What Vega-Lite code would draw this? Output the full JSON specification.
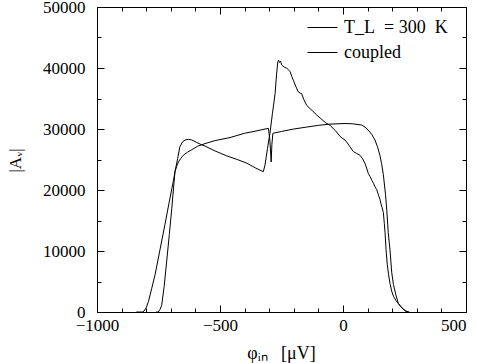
{
  "$schema": "https://vega.github.io/schema/vega-lite/v6.json",
  "width": 369,
  "height": 305,
  "autosize": {"type": "none"},
  "padding": {"left": 97, "top": 7, "right": 11, "bottom": 51},
  "background": "white",
  "config": {
    "view": {"stroke": null},
    "font": "Liberation Serif",
    "axis": {"grid": false, "domainColor": "black", "tickColor": "black", "labelColor": "black", "titleColor": "black", "labelFont": "Liberation Serif", "titleFont": "Liberation Serif", "labelFontSize": 17, "titleFontSize": 18, "titleFontWeight": "normal", "domainWidth": 1, "tickWidth": 1}
  },
  "data": {"values": [
    {"s": "coupled", "x": -840, "y": 0}, {"s": "coupled", "x": -812, "y": 0}, {"s": "coupled", "x": -800, "y": 700}, {"s": "coupled", "x": -791, "y": 1700}, {"s": "coupled", "x": -778, "y": 3800}, {"s": "coupled", "x": -764, "y": 6100}, {"s": "coupled", "x": -744, "y": 10200}, {"s": "coupled", "x": -724, "y": 14300}, {"s": "coupled", "x": -707, "y": 17900}, {"s": "coupled", "x": -690, "y": 21400}, {"s": "coupled", "x": -680, "y": 23600}, {"s": "coupled", "x": -672, "y": 25200}, {"s": "coupled", "x": -663, "y": 27100}, {"s": "coupled", "x": -652, "y": 27900}, {"s": "coupled", "x": -642, "y": 28200}, {"s": "coupled", "x": -628, "y": 28300}, {"s": "coupled", "x": -615, "y": 28200}, {"s": "coupled", "x": -595, "y": 27800}, {"s": "coupled", "x": -574, "y": 27400}, {"s": "coupled", "x": -561, "y": 27200}, {"s": "coupled", "x": -520, "y": 26400}, {"s": "coupled", "x": -473, "y": 25600}, {"s": "coupled", "x": -430, "y": 25000}, {"s": "coupled", "x": -391, "y": 24400}, {"s": "coupled", "x": -355, "y": 23600}, {"s": "coupled", "x": -324, "y": 23000}, {"s": "coupled", "x": -317, "y": 24100}, {"s": "coupled", "x": -307, "y": 26800}, {"s": "coupled", "x": -297, "y": 29300}, {"s": "coupled", "x": -287, "y": 32500}, {"s": "coupled", "x": -276, "y": 35800}, {"s": "coupled", "x": -270, "y": 39000}, {"s": "coupled", "x": -265, "y": 41000}, {"s": "coupled", "x": -262, "y": 41300}, {"s": "coupled", "x": -258, "y": 40900}, {"s": "coupled", "x": -254, "y": 41100}, {"s": "coupled", "x": -249, "y": 40500}, {"s": "coupled", "x": -244, "y": 40300}, {"s": "coupled", "x": -237, "y": 40100}, {"s": "coupled", "x": -229, "y": 40000}, {"s": "coupled", "x": -222, "y": 39700}, {"s": "coupled", "x": -215, "y": 39400}, {"s": "coupled", "x": -208, "y": 38600}, {"s": "coupled", "x": -202, "y": 38000}, {"s": "coupled", "x": -192, "y": 37000}, {"s": "coupled", "x": -182, "y": 36100}, {"s": "coupled", "x": -175, "y": 35900}, {"s": "coupled", "x": -168, "y": 35800}, {"s": "coupled", "x": -160, "y": 34900}, {"s": "coupled", "x": -148, "y": 33900}, {"s": "coupled", "x": -138, "y": 33500}, {"s": "coupled", "x": -125, "y": 33000}, {"s": "coupled", "x": -107, "y": 32300}, {"s": "coupled", "x": -90, "y": 31700}, {"s": "coupled", "x": -70, "y": 31000}, {"s": "coupled", "x": -53, "y": 30600}, {"s": "coupled", "x": -30, "y": 29700}, {"s": "coupled", "x": -10, "y": 28700}, {"s": "coupled", "x": 8, "y": 28200}, {"s": "coupled", "x": 18, "y": 27700}, {"s": "coupled", "x": 28, "y": 27100}, {"s": "coupled", "x": 42, "y": 26300}, {"s": "coupled", "x": 55, "y": 26000}, {"s": "coupled", "x": 69, "y": 25700}, {"s": "coupled", "x": 80, "y": 25100}, {"s": "coupled", "x": 89, "y": 24400}, {"s": "coupled", "x": 96, "y": 23600}, {"s": "coupled", "x": 103, "y": 22700}, {"s": "coupled", "x": 110, "y": 22200}, {"s": "coupled", "x": 117, "y": 21600}, {"s": "coupled", "x": 124, "y": 21100}, {"s": "coupled", "x": 130, "y": 20500}, {"s": "coupled", "x": 137, "y": 20100}, {"s": "coupled", "x": 144, "y": 19200}, {"s": "coupled", "x": 150, "y": 18500}, {"s": "coupled", "x": 154, "y": 17800}, {"s": "coupled", "x": 159, "y": 17100}, {"s": "coupled", "x": 164, "y": 16300}, {"s": "coupled", "x": 168, "y": 14500}, {"s": "coupled", "x": 171, "y": 13000}, {"s": "coupled", "x": 175, "y": 10200}, {"s": "coupled", "x": 180, "y": 7800}, {"s": "coupled", "x": 185, "y": 6200}, {"s": "coupled", "x": 191, "y": 4700}, {"s": "coupled", "x": 198, "y": 3400}, {"s": "coupled", "x": 205, "y": 2600}, {"s": "coupled", "x": 215, "y": 1900}, {"s": "coupled", "x": 225, "y": 1400}, {"s": "coupled", "x": 235, "y": 900}, {"s": "coupled", "x": 245, "y": 500}, {"s": "coupled", "x": 255, "y": 150}, {"s": "coupled", "x": 270, "y": 0},
    {"s": "TL", "x": -760, "y": 0}, {"s": "TL", "x": -751, "y": 0}, {"s": "TL", "x": -744, "y": 400}, {"s": "TL", "x": -737, "y": 1100}, {"s": "TL", "x": -727, "y": 4200}, {"s": "TL", "x": -717, "y": 8200}, {"s": "TL", "x": -706, "y": 12700}, {"s": "TL", "x": -696, "y": 17000}, {"s": "TL", "x": -689, "y": 20300}, {"s": "TL", "x": -683, "y": 23000}, {"s": "TL", "x": -676, "y": 23900}, {"s": "TL", "x": -669, "y": 24600}, {"s": "TL", "x": -659, "y": 25200}, {"s": "TL", "x": -649, "y": 25700}, {"s": "TL", "x": -632, "y": 26200}, {"s": "TL", "x": -615, "y": 26600}, {"s": "TL", "x": -590, "y": 27200}, {"s": "TL", "x": -561, "y": 27600}, {"s": "TL", "x": -520, "y": 28100}, {"s": "TL", "x": -459, "y": 28600}, {"s": "TL", "x": -400, "y": 29300}, {"s": "TL", "x": -350, "y": 29700}, {"s": "TL", "x": -317, "y": 30000}, {"s": "TL", "x": -303, "y": 30100}, {"s": "TL", "x": -297, "y": 28000}, {"s": "TL", "x": -292, "y": 24600}, {"s": "TL", "x": -289, "y": 27500}, {"s": "TL", "x": -285, "y": 29300}, {"s": "TL", "x": -250, "y": 29600}, {"s": "TL", "x": -200, "y": 30000}, {"s": "TL", "x": -150, "y": 30300}, {"s": "TL", "x": -100, "y": 30600}, {"s": "TL", "x": -53, "y": 30800}, {"s": "TL", "x": 8, "y": 30900}, {"s": "TL", "x": 40, "y": 30850}, {"s": "TL", "x": 76, "y": 30650}, {"s": "TL", "x": 90, "y": 30300}, {"s": "TL", "x": 103, "y": 29800}, {"s": "TL", "x": 117, "y": 29100}, {"s": "TL", "x": 130, "y": 28200}, {"s": "TL", "x": 140, "y": 27100}, {"s": "TL", "x": 150, "y": 25700}, {"s": "TL", "x": 157, "y": 24300}, {"s": "TL", "x": 164, "y": 22500}, {"s": "TL", "x": 173, "y": 19200}, {"s": "TL", "x": 178, "y": 16700}, {"s": "TL", "x": 184, "y": 13000}, {"s": "TL", "x": 191, "y": 10200}, {"s": "TL", "x": 198, "y": 6500}, {"s": "TL", "x": 205, "y": 4500}, {"s": "TL", "x": 215, "y": 2800}, {"s": "TL", "x": 225, "y": 1400}, {"s": "TL", "x": 235, "y": 850}, {"s": "TL", "x": 245, "y": 450}, {"s": "TL", "x": 255, "y": 150}, {"s": "TL", "x": 265, "y": 0}
  ]},
  "layer": [
    {
      "mark": {"type": "line", "strokeWidth": 1, "interpolate": "linear"},
      "encoding": {
        "x": {"field": "x", "type": "quantitative", "scale": {"domain": [-1000, 500], "nice": false, "zero": false},
          "axis": {"orient": "bottom", "values": [-1000, -900, -800, -700, -600, -500, -400, -300, -200, -100, 0, 100, 200, 300, 400, 500], "format": "d",
            "labelExpr": "datum.value % 500 === 0 ? replace(datum.label, '-', '−') : ''",
            "labelAlign": {"condition": {"test": "datum.value === 500", "value": "right"}, "value": "center"},
            "tickSize": {"condition": {"test": "datum.value % 500 === 0", "value": -7}, "value": -4},
            "labelPadding": 12, "labelFlush": false, "labelOverlap": false,
            "title": "φᵢₙ\u00a0\u00a0\u00a0[μV]", "titleX": 184, "titleY": 41, "titleBaseline": "middle", "titleAlign": "center"}},
        "y": {"field": "y", "type": "quantitative", "scale": {"domain": [0, 50000], "nice": false},
          "axis": {"orient": "left", "values": [0, 5000, 10000, 15000, 20000, 25000, 30000, 35000, 40000, 45000, 50000], "format": "d",
            "labelExpr": "datum.value % 10000 === 0 ? datum.label : ''",
            "tickSize": {"condition": {"test": "datum.value % 10000 === 0", "value": -7}, "value": -4},
            "labelPadding": 19, "labelFlush": false, "labelOverlap": false, "labelBaseline": "middle",
            "title": "|Aᵥ|", "titleFontSize": 17, "titleX": -82, "titleY": 153, "titleAngle": -90, "titleBaseline": "middle", "titleAlign": "center"}},
        "color": {"field": "s", "type": "nominal", "scale": {"domain": ["TL", "coupled"], "range": ["black", "black"]},
          "legend": {"orient": "none", "legendX": 210, "legendY": 5, "title": null, "symbolType": "stroke", "symbolSize": 900, "symbolStrokeWidth": 1, "labelFont": "Liberation Serif", "labelFontSize": 18, "labelColor": "black", "labelOffset": 6, "rowPadding": -5,
            "labelExpr": "datum.label === 'TL' ? 'T_L\u00a0\u00a0=\u00a0300\u00a0\u00a0K' : datum.label"}}
      }
    },
    {
      "mark": {"type": "line", "strokeOpacity": 0},
      "encoding": {
        "x": {"field": "x", "type": "quantitative",
          "axis": {"orient": "top", "values": [-1000, -900, -800, -700, -600, -500, -400, -300, -200, -100, 0, 100, 200, 300, 400, 500], "labels": false, "title": null,
            "tickSize": {"condition": {"test": "datum.value % 500 === 0", "value": -7}, "value": -4}}},
        "y": {"field": "y", "type": "quantitative",
          "axis": {"orient": "right", "values": [0, 5000, 10000, 15000, 20000, 25000, 30000, 35000, 40000, 45000, 50000], "labels": false, "title": null,
            "tickSize": {"condition": {"test": "datum.value % 10000 === 0", "value": -7}, "value": -4}}},
        "detail": {"field": "s"}
      }
    }
  ],
  "resolve": {"axis": {"x": "independent", "y": "independent"}}
}
